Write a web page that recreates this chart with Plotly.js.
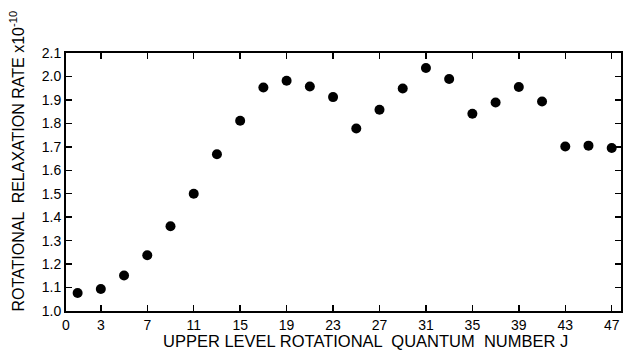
<!DOCTYPE html>
<html>
<head>
<meta charset="utf-8">
<script src="https://cdn.plot.ly/plotly-3.0.1.min.js"></script>
<style>html,body{margin:0;padding:0;background:#fff;}#chart{width:624px;height:352px;}</style>
</head>
<body>
<div id="chart"></div>
<script>
const J = [1,3,5,7,9,11,13,15,17,19,21,23,25,27,29,31,33,35,37,39,41,43,45,47];
const rate = [1.077,1.094,1.151,1.238,1.361,1.500,1.668,1.811,1.953,1.982,1.957,1.912,
              1.778,1.858,1.949,2.036,1.989,1.841,1.889,1.955,1.893,1.701,1.705,1.695];
const xTicks = [0,3,7,11,15,19,23,27,31,35,39,43,47];
const yTicks = [1.0,1.1,1.2,1.3,1.4,1.5,1.6,1.7,1.8,1.9,2.0,2.1];
const xTitle = 'UPPER LEVEL ROTATIONAL  QUANTUM  NUMBER J';
const yTitle = 'ROTATIONAL  RELAXATION RATE x10<sup>-10</sup>';

const font = 'Liberation Sans, Arial, sans-serif';
const axisCommon = {
  showgrid:false, zeroline:false, showline:true, mirror:'ticks',
  linecolor:'#000', linewidth:2, ticks:'inside', ticklen:6, tickwidth:1.5,
  tickcolor:'#000', tickfont:{family:font, size:14, color:'#000'}
};
const layout = {
  width:624, height:352,
  margin:{l:66, r:3, t:53, b:41},
  paper_bgcolor:'#fff', plot_bgcolor:'#fff',
  showlegend:false,
  xaxis: Object.assign({}, axisCommon, {
    range:[0,47.8], tickvals:xTicks, ticktext:xTicks.map(String)
  }),
  yaxis: Object.assign({}, axisCommon, {
    range:[1.0,2.1], tickvals:yTicks, ticktext:yTicks.map(v=>v.toFixed(1))
  }),
  annotations:[
    {text:xTitle, xref:'paper', yref:'paper', x:0.539, y:-0.115, xanchor:'center', yanchor:'middle',
     showarrow:false, font:{family:font, size:16.5, color:'#000'}},
    {text:yTitle, xref:'paper', yref:'paper', x:-0.088, y:0.58, xanchor:'center', yanchor:'middle',
     textangle:-90, showarrow:false, font:{family:font, size:16, color:'#000'}}
  ]
};
Plotly.newPlot('chart', [{
  x:J, y:rate, type:'scatter', mode:'markers',
  marker:{color:'#000', size:10}
}], layout, {staticPlot:true, displayModeBar:false});
</script>
</body>
</html>
